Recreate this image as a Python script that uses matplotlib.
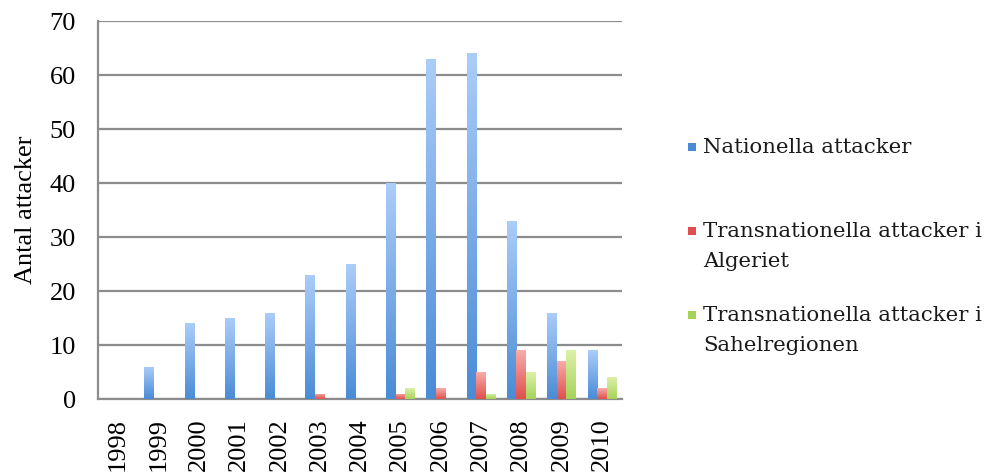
import matplotlib
matplotlib.use("Agg")
import matplotlib.pyplot as plt
import numpy as np
from matplotlib.colors import LinearSegmentedColormap
from matplotlib.patches import Rectangle

years = ["1998", "1999", "2000", "2001", "2002", "2003", "2004",
         "2005", "2006", "2007", "2008", "2009", "2010"]
nationella = [0, 6, 14, 15, 16, 23, 25, 40, 63, 64, 33, 16, 9]
trans_algeriet = [0, 0, 0, 0, 0, 1, 0, 1, 2, 5, 9, 7, 2]
trans_sahel = [0, 0, 0, 0, 0, 0, 0, 2, 0, 1, 5, 9, 4]
labels = ["Nationella attacker",
          "Transnationella attacker i\nAlgeriet",
          "Transnationella attacker i\nSahelregionen"]
yticks = [0, 10, 20, 30, 40, 50, 60, 70]

grads = [("#4a8bd6", "#abcdf9"), ("#df4f4c", "#f9aca9"), ("#a6d25a", "#ddf1aa")]

W, H = 987, 474
fig = plt.figure(figsize=(W/100, H/100), dpi=100)
ax = fig.add_axes([98/W, 1 - 399/H, (622-98)/W, (399-21)/H])

x = np.arange(len(years))
w = 0.235
series = [nationella, trans_algeriet, trans_sahel]
grad_img = np.linspace(0, 1, 256).reshape(-1, 1)
for i, (vals, (c0, c1)) in enumerate(zip(series, grads)):
    cmap = LinearSegmentedColormap.from_list(f"g{i}", [c0, c1])
    bars = ax.bar(x + (i - 1) * w, vals, width=w, color=c0, edgecolor="none", zorder=3)
    for b in bars:
        h = b.get_height()
        if h <= 0:
            continue
        bx = b.get_x()
        im = ax.imshow(grad_img, cmap=cmap, aspect="auto", origin="lower",
                       extent=[bx, bx + b.get_width(), 0, h], zorder=3.5,
                       interpolation="bicubic")
        im.set_clip_path(b)

ax.set_xlim(-0.5, len(years) - 0.5)
ax.set_ylim(0, 70)
ax.set_yticks(yticks)
ax.set_xticks(x)
ax.set_xticklabels(years, rotation=90, va="top")
ax.grid(axis="y", color="#8c8c8c", linewidth=1.6, zorder=1)
ax.set_axisbelow(True)
for s in ["top", "right"]:
    ax.spines[s].set_visible(False)
for s in ["left", "bottom"]:
    ax.spines[s].set_color("#8c8c8c")
    ax.spines[s].set_linewidth(1.6)
ax.tick_params(axis="both", length=0, labelsize=19)
ax.tick_params(axis="y", pad=16)
ax.tick_params(axis="x", pad=14)
for t in ax.get_xticklabels() + ax.get_yticklabels():
    t.set_fontfamily("Liberation Serif")
ax.set_ylabel("Antal attacker", fontsize=19, family="Liberation Serif", labelpad=9)

# legend (manual, Excel-like layout)
legend_font = "DejaVu Serif"
x0 = 703
target_w = 983 - x0
renderer = fig.canvas.get_renderer()
probe = fig.text(0, 0, "Transnationella attacker i", fontsize=10, family=legend_font)
pw = probe.get_window_extent(renderer).width
probe.remove()
lfs = 10 * target_w / pw

baselines = [[153], [237, 267], [321, 351]]
for (c0, c1), lab, bls in zip(grads, labels, baselines):
    r = Rectangle(((x0 - 15)/W, 1 - (bls[0] - 2)/H), 8/W, 8/H,
                  transform=fig.transFigure, facecolor=c0, edgecolor="none")
    fig.patches.append(r)
    for line, bl in zip(lab.split("\n"), bls):
        fig.text(x0/W, 1 - bl/H, line, fontsize=lfs, family=legend_font,
                 va="baseline", ha="left", color="#1a1a1a")

fig.savefig("out.png", dpi=100)
